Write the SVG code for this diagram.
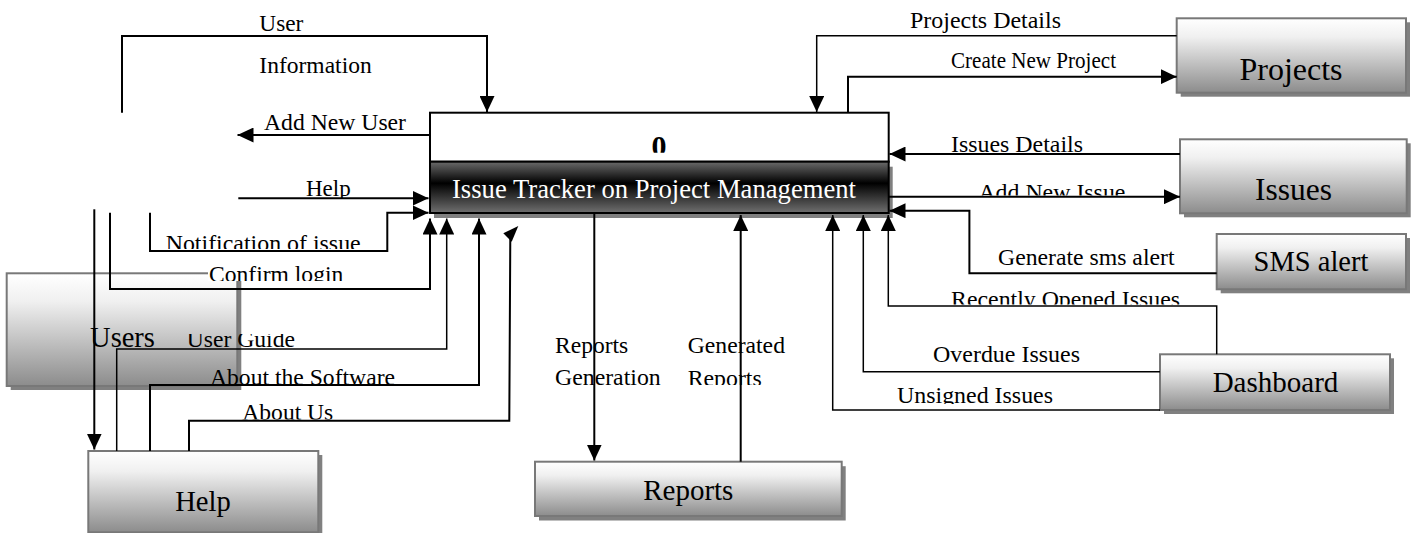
<svg xmlns="http://www.w3.org/2000/svg" width="1411" height="533" viewBox="0 0 1411 533">
  <defs>
    <style>
      .lbl { font-family: "Liberation Serif", "Times New Roman", serif; font-size: 22.5px; fill: #000; }
      .name { font-family: "Liberation Serif", "Times New Roman", serif; fill: #000; text-anchor: middle; }
      .box { fill: url(#boxGrad); stroke: #787878; stroke-width: 2; }
      .shadow { fill: #808080; }
      .flow { fill: none; stroke: #000; stroke-width: 2; }
      .thin { stroke-width: 1.5; }
      .arrow { marker-end: url(#head); }
    </style>
    <linearGradient id="boxGrad" x1="0" y1="0" x2="0" y2="1">
      <stop offset="0" stop-color="#ffffff"/>
      <stop offset="0.25" stop-color="#f0f0f0"/>
      <stop offset="1" stop-color="#8c8c8c"/>
    </linearGradient>
    <linearGradient id="bandGrad" x1="0" y1="0" x2="0" y2="1">
      <stop offset="0" stop-color="#6a6a6a"/>
      <stop offset="0.42" stop-color="#000000"/>
      <stop offset="1" stop-color="#707070"/>
    </linearGradient>
    <marker id="head" viewBox="0 0 16 15" markerUnits="userSpaceOnUse" markerWidth="16" markerHeight="15" refX="16" refY="7.5" orient="auto">
      <path d="M0,0 L16,7.5 L0,15 Z" fill="#000"/>
    </marker>
    <!-- text frames that crop their labels -->
    <clipPath id="cpZero"><rect x="600" y="120" width="120" height="32.7"/></clipPath>
    <clipPath id="cpHelp"><rect x="290" y="170" width="80" height="28"/></clipPath>
    <clipPath id="cpNotif"><rect x="150" y="225" width="230" height="24"/></clipPath>
    <clipPath id="cpConfirm"><rect x="200" y="255" width="160" height="26"/></clipPath>
    <clipPath id="cpGuide"><rect x="180" y="334" width="130" height="20"/></clipPath>
    <clipPath id="cpSoft"><rect x="200" y="360" width="210" height="24"/></clipPath>
    <clipPath id="cpUs"><rect x="235" y="395" width="110" height="24.5"/></clipPath>
    <clipPath id="cpGenRep"><rect x="680" y="360" width="100" height="25"/></clipPath>
    <clipPath id="cpAddIssue"><rect x="970" y="175" width="170" height="20.5"/></clipPath>
    <clipPath id="cpRecent"><rect x="940" y="282" width="250" height="22.5"/></clipPath>
    <clipPath id="cpUnsigned"><rect x="890" y="380" width="170" height="24"/></clipPath>
  </defs>

  <rect x="0" y="0" width="1411" height="533" fill="#ffffff"/>

  <!-- external entities -->
  <g id="users">
    <rect class="shadow" x="10.7" y="277.3" width="230.6" height="112.7" fill="#707070"/>
    <rect class="box" x="6.7" y="273.3" width="230.6" height="112.7"/>
    <text class="name" x="122.5" y="346.7" font-size="28.5">Users</text>
  </g>

  <g id="help">
    <rect class="shadow" x="92.3" y="455" width="230" height="81.3"/>
    <rect class="box" x="88.3" y="451" width="230" height="81.3"/>
    <text class="name" x="203" y="510.7" font-size="28.6">Help</text>
  </g>

  <g id="reports">
    <rect class="shadow" x="539" y="466.2" width="306.7" height="54.3"/>
    <rect class="box" x="535" y="461.7" width="306.7" height="54.3"/>
    <text class="name" x="688.3" y="500" font-size="29">Reports</text>
  </g>

  <g id="projects">
    <rect class="shadow" x="1180.7" y="22.3" width="229.3" height="74.4"/>
    <rect class="box" x="1176.7" y="18.3" width="229.3" height="74.4"/>
    <text class="name" x="1291" y="80" font-size="32">Projects</text>
  </g>

  <g id="issues">
    <rect class="shadow" x="1184" y="143.3" width="226.7" height="74"/>
    <rect class="box" x="1180" y="139.3" width="226.7" height="74"/>
    <text class="name" x="1293.5" y="200" font-size="31.5">Issues</text>
  </g>

  <g id="sms-alert">
    <rect class="shadow" x="1220.7" y="238" width="189.3" height="55.3"/>
    <rect class="box" x="1216.7" y="234" width="189.3" height="55.3"/>
    <text class="name" x="1311" y="271" font-size="28.5">SMS alert</text>
  </g>

  <g id="dashboard">
    <rect class="shadow" x="1164" y="358.3" width="230" height="55.7"/>
    <rect class="box" x="1160" y="354.3" width="230" height="55.7"/>
    <text class="name" x="1275.5" y="391.7" font-size="29">Dashboard</text>
  </g>

  <!-- central process -->
  <g id="process">
    <rect x="430" y="112.7" width="458.7" height="49" fill="#ffffff" stroke="#000" stroke-width="2"/>
    <text x="659" y="156.3" clip-path="url(#cpZero)" font-family="Liberation Serif, Times New Roman, serif" font-size="30" font-weight="bold" text-anchor="middle">0</text>
    <rect x="434" y="166.7" width="458.7" height="51.3" fill="#808080"/>
    <rect x="430" y="161.7" width="458.7" height="51.3" fill="url(#bandGrad)" stroke="#000" stroke-width="2"/>
    <text x="654" y="198.3" font-family="Liberation Serif, Times New Roman, serif" font-size="26.6" fill="#ffffff" text-anchor="middle" textLength="404" lengthAdjust="spacingAndGlyphs">Issue Tracker on Project Management</text>
  </g>

  <!-- data flows -->
  <g id="connectors">
    <path class="flow arrow" d="M122,112.7 V36 H487 V112"/>
    <path class="flow arrow" d="M430,135 H237.5"/>
    <path class="flow arrow" d="M238.3,198.3 H428.5"/>
    <path class="flow arrow" d="M150,212.7 V251 H387.3 V212.7 H428.5"/>
    <path class="flow arrow" d="M110,212.7 V289 H430 V218.5"/>
    <path class="flow thin arrow" d="M116.7,451 V349 H446.7 V218.5"/>
    <path class="flow arrow" d="M150,451 V385 H479 V218.5"/>
    <path class="flow" d="M189,451 V420.7 H509.3 L510.3,237"/>
    <polygon points="518.3,226 503.3,233.3 511.7,241.7" fill="#000"/>
    <path class="flow arrow" d="M94.3,209.3 V449.5"/>
    <path class="flow arrow" d="M594.3,213 V460.5"/>
    <path class="flow arrow" d="M740.7,461.7 V215"/>
    <path class="flow thin arrow" d="M1160,410 H832.7 V215"/>
    <path class="flow thin arrow" d="M1160,371.7 H863.3 V215"/>
    <path class="flow thin arrow" d="M1216.7,354.3 V306 H888.3 V215"/>
    <path class="flow arrow" d="M1216.7,273.3 H969.4 V210.7 H889.5"/>
    <path class="flow arrow" d="M889,196.7 H1180"/>
    <path class="flow arrow" d="M1180,154 H889.5"/>
    <path class="flow arrow" d="M848,112.7 V76.7 H1176.7"/>
    <path class="flow thin arrow" d="M1176.7,35.7 H816.7 V112"/>
  </g>

  <!-- flow labels -->
  <g id="labels">
    <text class="lbl" x="259.3" y="30.7" textLength="44" lengthAdjust="spacingAndGlyphs">User</text>
    <text class="lbl" x="259.3" y="72.7" textLength="112.4" lengthAdjust="spacingAndGlyphs">Information</text>
    <text class="lbl" x="264" y="130" textLength="142" lengthAdjust="spacingAndGlyphs">Add New User</text>
    <text class="lbl" x="306" y="195.8" textLength="44.7" lengthAdjust="spacingAndGlyphs" clip-path="url(#cpHelp)">Help</text>
    <text class="lbl" x="165.7" y="250.5" textLength="195" lengthAdjust="spacingAndGlyphs" clip-path="url(#cpNotif)">Notification of issue</text>
    <rect x="208" y="262" width="137" height="19" fill="#ffffff"/>
    <text class="lbl" x="209" y="281.6" textLength="134.3" lengthAdjust="spacingAndGlyphs" clip-path="url(#cpConfirm)">Confirm login</text>
    <text class="lbl" x="186.7" y="346.7" textLength="108.3" lengthAdjust="spacingAndGlyphs" clip-path="url(#cpGuide)">User Guide</text>
    <text class="lbl" x="210" y="384.6" textLength="185" lengthAdjust="spacingAndGlyphs" clip-path="url(#cpSoft)">About the Software</text>
    <text class="lbl" x="242.3" y="420.2" textLength="91" lengthAdjust="spacingAndGlyphs" clip-path="url(#cpUs)">About Us</text>
    <text class="lbl" x="555" y="353.3" textLength="73.3" lengthAdjust="spacingAndGlyphs">Reports</text>
    <text class="lbl" x="555" y="385" textLength="105.7" lengthAdjust="spacingAndGlyphs">Generation</text>
    <text class="lbl" x="687.7" y="353.3" textLength="97.3" lengthAdjust="spacingAndGlyphs">Generated</text>
    <text class="lbl" x="687.7" y="385.5" textLength="74" lengthAdjust="spacingAndGlyphs" clip-path="url(#cpGenRep)">Reports</text>
    <text class="lbl" x="910" y="28.3" textLength="151" lengthAdjust="spacingAndGlyphs">Projects Details</text>
    <text class="lbl" x="951" y="68.3" font-size="18" textLength="165" lengthAdjust="spacingAndGlyphs">Create New Project</text>
    <text class="lbl" x="951" y="151.7" textLength="132" lengthAdjust="spacingAndGlyphs">Issues Details</text>
    <text class="lbl" x="978.4" y="200.3" textLength="147" lengthAdjust="spacingAndGlyphs" clip-path="url(#cpAddIssue)">Add New Issue</text>
    <text class="lbl" x="998" y="265" textLength="176.5" lengthAdjust="spacingAndGlyphs">Generate sms alert</text>
    <text class="lbl" x="951" y="306.5" textLength="229" lengthAdjust="spacingAndGlyphs" clip-path="url(#cpRecent)">Recently Opened Issues</text>
    <text class="lbl" x="933" y="361.7" textLength="147" lengthAdjust="spacingAndGlyphs">Overdue Issues</text>
    <text class="lbl" x="897" y="402.5" textLength="156" lengthAdjust="spacingAndGlyphs" clip-path="url(#cpUnsigned)">Unsigned Issues</text>
  </g>
</svg>
